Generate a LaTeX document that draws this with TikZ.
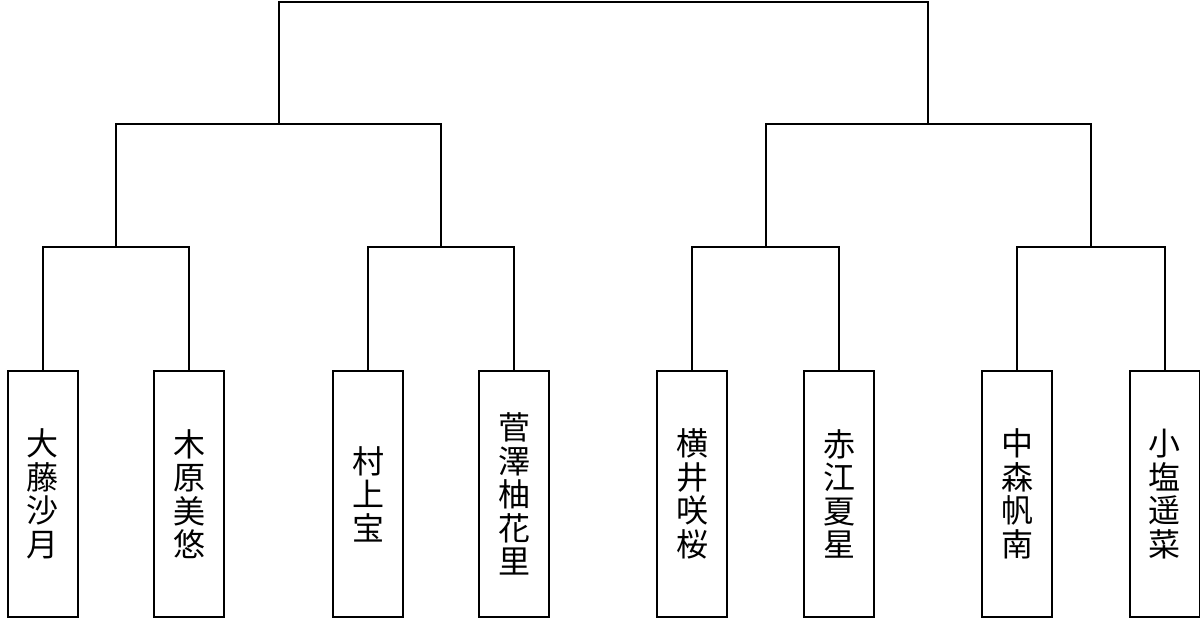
\documentclass[tikz,border=0pt]{standalone}
\usepackage{fontspec}
\newfontfamily\cjk{Noto Sans CJK JP}
\begin{document}
\begin{tikzpicture}[x=1pt,y=-1pt,line width=2pt]
\useasboundingbox (0,0) rectangle (1200,619);
\tikzset{player/.style={draw, line width=2pt, minimum width=70pt, minimum height=246pt, inner sep=0pt, align=center, font=\cjk\fontsize{32}{33.5}\selectfont}}
\node[player] (p1) at (43,494) {大\\藤\\沙\\月};
\node[player] (p2) at (189,494) {木\\原\\美\\悠};
\node[player] (p3) at (368,494) {村\\上\\宝};
\node[player] (p4) at (514,494) {菅\\澤\\柚\\花\\里};
\node[player] (p5) at (692,494) {横\\井\\咲\\桜};
\node[player] (p6) at (839,494) {赤\\江\\夏\\星};
\node[player] (p7) at (1017,494) {中\\森\\帆\\南};
\node[player] (p8) at (1164.5,494) {小\\塩\\遥\\菜};
\coordinate (a1) at (116,247);
\coordinate (a2) at (441,247);
\coordinate (a3) at (765.5,247);
\coordinate (a4) at (1091,247);
\coordinate (c1) at (279,124);
\coordinate (c2) at (928,124);
\coordinate (t) at (603.5,2);
\draw (p1.north) |- (a1) -| (p2.north);
\draw (p3.north) |- (a2) -| (p4.north);
\draw (p5.north) |- (a3) -| (p6.north);
\draw (p7.north) |- (a4) -| (p8.north);
\draw (a1) |- (c1) -| (a2);
\draw (a3) |- (c2) -| (a4);
\draw (c1) |- (t) -| (c2);
\end{tikzpicture}
\end{document}
